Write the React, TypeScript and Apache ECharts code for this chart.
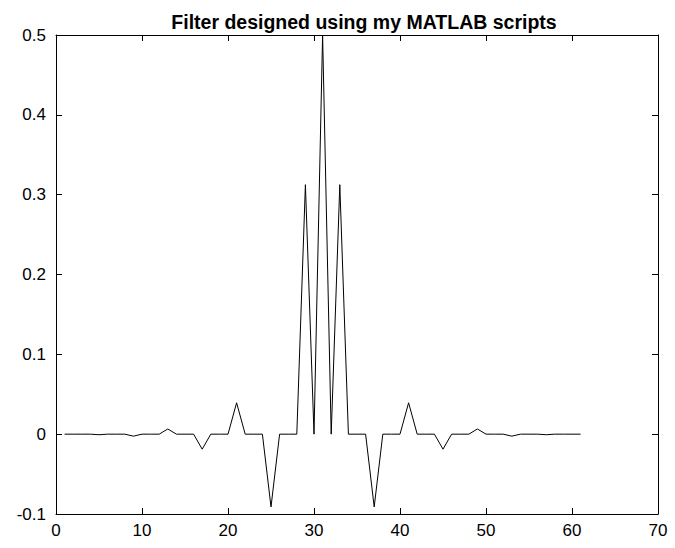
import React, { useEffect, useRef } from "react";
import * as echarts from "echarts";

const titleText = "Filter designed using my MATLAB scripts";
const xValues = [
  1, 2, 3, 4, 5, 6, 7, 8, 9, 10, 11, 12, 13, 14, 15, 16, 17, 18, 19, 20, 21, 22, 23, 24, 25, 26, 27, 28, 29, 30,
  31, 32, 33, 34, 35, 36, 37, 38, 39, 40, 41, 42, 43, 44, 45, 46, 47, 48, 49, 50, 51, 52, 53, 54, 55, 56, 57, 58, 59, 60, 61,
];
const yValues = [
  0, 0, 0, 0, -0.0007, 0, 0, 0, -0.0025, 0, 0, 0, 0.0065, 0, 0, 0, -0.0188, 0, 0, 0, 0.0393, 0, 0, 0, -0.0911, 0, 0, 0, 0.3125, 0,
  0.5, 0, 0.3125, 0, 0, 0, -0.0911, 0, 0, 0, 0.0393, 0, 0, 0, -0.0188, 0, 0, 0, 0.0065, 0, 0, 0, -0.0025, 0, 0, 0, -0.0007, 0, 0, 0, 0,
];
const xMin = 0, xMax = 70, xStep = 10;
const yMin = -0.1, yMax = 0.5, yStep = 0.1;

export default function App() {
  const ref = useRef<HTMLDivElement>(null);
  useEffect(() => {
    if (!ref.current) return;
    const chart = echarts.init(ref.current, null, { renderer: "svg" });
    const font = "Liberation Sans, Arial, Helvetica, sans-serif";
    const axisLine = { show: true, onZero: false, lineStyle: { color: "#000", width: 1 } };
    const tick = { show: true, inside: true, length: 6, lineStyle: { color: "#000" } };
    const fmtY = (v: number) => {
      const r = Math.round(v * 10) / 10;
      return r === 0 ? "0" : String(r);
    };
    chart.setOption({
      animation: false,
      backgroundColor: "#fff",
      title: {
        text: titleText,
        left: 359,
        textAlign: "center",
        top: 7,
        textStyle: { fontFamily: font, fontSize: 19.5, fontWeight: "bold", color: "#000" },
      },
      grid: { left: 56, right: 17, top: 35, bottom: 34, containLabel: false },
      xAxis: [
        {
          type: "value", min: xMin, max: xMax, interval: xStep, position: "bottom",
          axisLine, axisTick: tick, splitLine: { show: false },
          axisLabel: { color: "#000", fontFamily: font, fontSize: 17, margin: 8 },
        },
        {
          type: "value", min: xMin, max: xMax, interval: xStep, position: "top",
          axisLine, axisTick: tick, splitLine: { show: false }, axisLabel: { show: false },
        },
      ],
      yAxis: [
        {
          type: "value", min: yMin, max: yMax, interval: yStep, position: "left",
          axisLine, axisTick: tick, splitLine: { show: false },
          axisLabel: { color: "#000", fontFamily: font, fontSize: 17, margin: 10, formatter: fmtY },
        },
        {
          type: "value", min: yMin, max: yMax, interval: yStep, position: "right",
          axisLine, axisTick: tick, splitLine: { show: false }, axisLabel: { show: false },
        },
      ],
      series: [
        {
          type: "line",
          data: xValues.map((x, i) => [x, yValues[i]]),
          showSymbol: false,
          symbol: "none",
          lineStyle: { color: "#000", width: 1 },
          xAxisIndex: 0,
          yAxisIndex: 0,
        },
      ],
    });
    return () => chart.dispose();
  }, []);
  return <div ref={ref} style={{ width: 675, height: 548, position: "absolute", left: 0, top: 0 }} />;
}
